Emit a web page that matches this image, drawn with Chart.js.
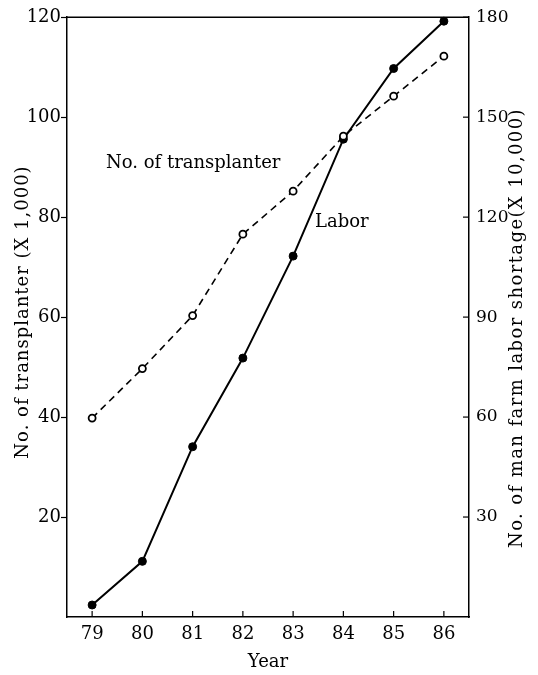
<!DOCTYPE html>
<html><head><meta charset="utf-8">
<script src="https://cdn.jsdelivr.net/npm/chart.js@4"></script>
<style>html,body{margin:0;padding:0;background:#fff}canvas{display:block}</style>
</head>
<body>
<canvas id="c" width="538" height="675"></canvas>
<script>
const years = ['79','80','81','82','83','84','85','86'];
const transplanter = [39.8, 49.7, 60.3, 76.6, 85.2, 96.2, 104.2, 112.2];
const labor = [3.6, 16.7, 51.1, 77.7, 108.3, 143.4, 164.6, 178.8];
const leftTicks = [20, 40, 60, 80, 100, 120];
const rightTicks = [30, 60, 90, 120, 150, 180];
const leftTitle = 'No. of transplanter (X 1,000)';
const rightTitle = 'No. of man farm labor shortage(X 10,000)';
const xTitle = 'Year';
const transLabel = 'No. of transplanter';
const laborLabel = 'Labor';

const FONT = '"DejaVu Serif", "Liberation Serif", serif';
const fontSpec = {family: FONT, size: 18};

const decor = {
  id: 'decor',
  afterDraw(chart) {
    const {ctx, chartArea: a, scales} = chart;
    ctx.save();
    ctx.strokeStyle = '#000';
    ctx.lineWidth = 1.5;
    ctx.beginPath();
    ctx.moveTo(a.left, a.top);
    ctx.lineTo(a.right, a.top);
    ctx.stroke();
    const xs = scales.x;
    ctx.lineWidth = 1.2;
    xs.ticks.forEach((t, i) => {
      const px = xs.getPixelForTick(i);
      ctx.beginPath();
      ctx.moveTo(px, a.bottom);
      ctx.lineTo(px, a.bottom - 6);
      ctx.stroke();
    });
    const ys2 = scales.y2;
    rightTicks.forEach(v => {
      const py = ys2.getPixelForValue(v);
      ctx.beginPath();
      ctx.moveTo(a.right, py);
      ctx.lineTo(a.right - 6, py);
      ctx.stroke();
    });
    ctx.fillStyle = '#000';
    ctx.font = '18px ' + FONT;
    ctx.textBaseline = 'alphabetic';
    ctx.textAlign = 'center';
    ctx.fillText(xTitle, (a.left + a.right) / 2, 667);
    ctx.textAlign = 'left';
    ctx.fillText(transLabel, 106, 168);
    ctx.fillText(laborLabel, 315, 227);
    ctx.save();
    ctx.letterSpacing = '1px';
    ctx.translate(28, 312);
    ctx.rotate(-Math.PI / 2);
    ctx.textAlign = 'center';
    ctx.fillText(leftTitle, 0, 0);
    ctx.restore();
    ctx.save();
    ctx.letterSpacing = '1.4px';
    ctx.translate(522, 328);
    ctx.rotate(-Math.PI / 2);
    ctx.textAlign = 'center';
    ctx.fillText(rightTitle, 0, 0);
    ctx.restore();
    ctx.restore();
  }
};

new Chart(document.getElementById('c'), {
  type: 'line',
  data: {
    labels: years,
    datasets: [
      {
        label: transLabel,
        data: transplanter,
        yAxisID: 'y',
        borderColor: '#000',
        borderWidth: 1.6,
        borderDash: [7, 5],
        pointRadius: 3.5,
        pointBackgroundColor: '#fff',
        pointBorderColor: '#000',
        pointBorderWidth: 1.8,
        tension: 0,
        clip: false
      },
      {
        label: laborLabel,
        data: labor,
        yAxisID: 'y2',
        borderColor: '#000',
        borderWidth: 2,
        pointRadius: 4,
        pointBackgroundColor: '#000',
        pointBorderColor: '#000',
        pointBorderWidth: 1,
        tension: 0,
        clip: false
      }
    ]
  },
  options: {
    responsive: false,
    animation: false,
    devicePixelRatio: 1,
    layout: {padding: {left: 0, right: 0, top: 15, bottom: 0}},
    plugins: {legend: {display: false}, tooltip: {enabled: false}},
    scales: {
      x: {
        type: 'category',
        offset: true,
        grid: {display: true, drawOnChartArea: false, drawTicks: false},
        border: {color: '#000', width: 1.5},
        ticks: {color: '#000', font: fontSpec, padding: 7, maxRotation: 0},
        afterFit(s) { s.height = 58; }
      },
      y: {
        type: 'linear',
        position: 'left',
        min: 0, max: 120,
        afterBuildTicks(s) { s.ticks = leftTicks.map(v => ({value: v})); },
        grid: {drawOnChartArea: false, drawTicks: true, tickLength: 6, tickColor: '#000', tickWidth: 1.2},
        border: {color: '#000', width: 1.5},
        ticks: {color: '#000', font: fontSpec, padding: 0},
        afterFit(s) { s.width = 67; }
      },
      y2: {
        type: 'linear',
        position: 'right',
        min: 0, max: 180,
        afterBuildTicks(s) { s.ticks = rightTicks.map(v => ({value: v})); },
        grid: {drawOnChartArea: false, drawTicks: false},
        border: {color: '#000', width: 1.5},
        ticks: {color: '#000', font: {family: FONT, size: 17}, padding: 7},
        afterFit(s) { s.width = 69; }
      }
    }
  },
  plugins: [decor]
});
</script>
</body></html>
